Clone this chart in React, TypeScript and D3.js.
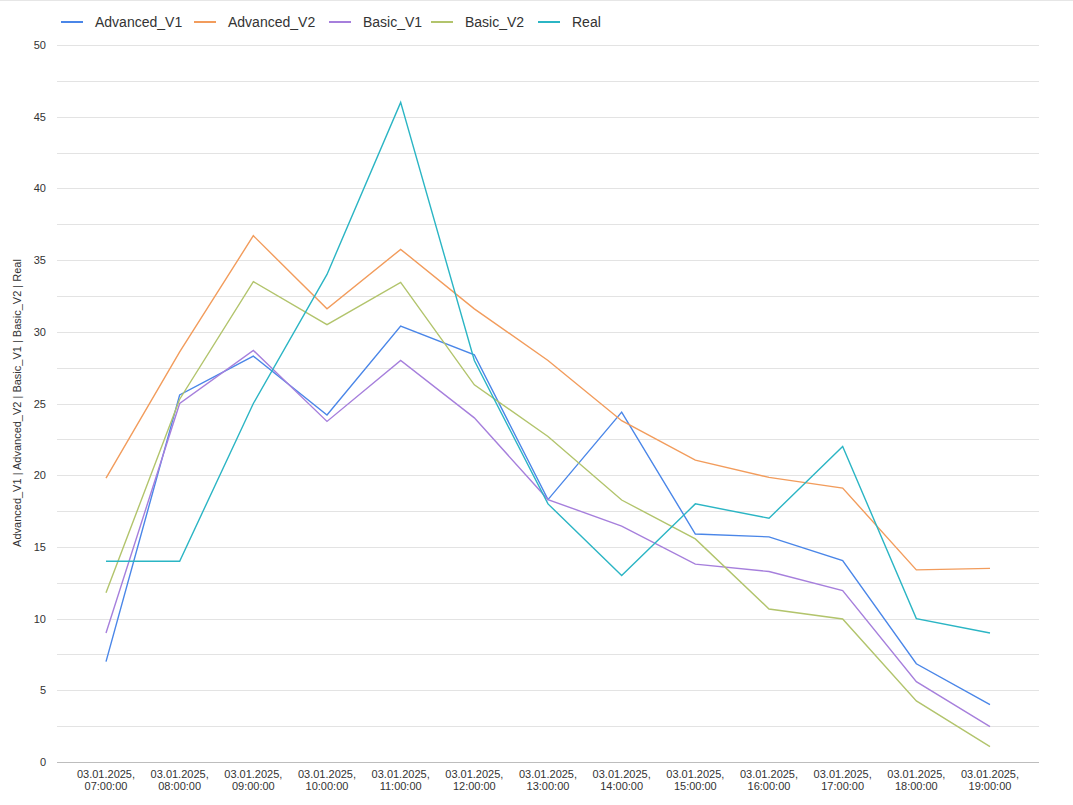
import React from "react";
import * as d3 from "d3";

const categories = [
  "03.01.2025, 07:00:00", "03.01.2025, 08:00:00", "03.01.2025, 09:00:00",
  "03.01.2025, 10:00:00", "03.01.2025, 11:00:00", "03.01.2025, 12:00:00",
  "03.01.2025, 13:00:00", "03.01.2025, 14:00:00", "03.01.2025, 15:00:00",
  "03.01.2025, 16:00:00", "03.01.2025, 17:00:00", "03.01.2025, 18:00:00",
  "03.01.2025, 19:00:00",
];
const advancedV1 = [7.0, 25.6, 28.3, 24.2, 30.4, 28.4, 18.3, 24.4, 15.9, 15.7, 14.05, 6.85, 4.0];
const advancedV2 = [19.8, 28.6, 36.7, 31.6, 35.75, 31.6, 28.0, 23.8, 21.05, 19.85, 19.1, 13.4, 13.5];
const basicV1 = [9.0, 25.0, 28.7, 23.75, 28.0, 24.0, 18.3, 16.45, 13.8, 13.28, 11.95, 5.6, 2.47];
const basicV2 = [11.8, 25.3, 33.5, 30.5, 33.45, 26.3, 22.7, 18.27, 15.56, 10.67, 9.97, 4.26, 1.07];
const real = [14, 14, 25, 34, 46, 28, 18, 13, 18, 17, 22, 10, 9];
const yTicks = [0, 5, 10, 15, 20, 25, 30, 35, 40, 45, 50];
const seriesNames = ["Advanced_V1", "Advanced_V2", "Basic_V1", "Basic_V2", "Real"];
const seriesValues = [advancedV1, advancedV2, basicV1, basicV2, real];
const colors = ["#4a86e8", "#f29c5c", "#a67fdc", "#b2c46c", "#2bb5c4"];
const legendX = [61, 194, 329, 431, 538];

export default function App() {
  const W = 1073, H = 805;
  const x = d3.scalePoint<string>().domain(categories).range([106, 990]);
  const y = d3.scaleLinear().domain([0, 50]).range([762, 45]);
  const gridVals = d3.range(0, 50.01, 2.5);
  const line = d3.line<number>().x((_, i) => x(categories[i])!).y((d) => y(d));
  const font = "'Liberation Sans', Arial, sans-serif";
  return (
    <svg width={W} height={H} style={{ position: "absolute", left: 0, top: 0, background: "#fff" }} fontFamily={font}>
      <line x1={0} x2={W} y1={0.5} y2={0.5} stroke="#e6e6e6" />
      {gridVals.map((v) => (
        <line key={v} x1={57} x2={1039} y1={Math.round(y(v)) + 0.5} y2={Math.round(y(v)) + 0.5}
          stroke={v === 0 ? "#bdbdbd" : "#e3e3e3"} strokeWidth={1} />
      ))}
      {yTicks.map((v) => (
        <text key={v} x={46} y={y(v) + 4} textAnchor="end" fontSize={11} fill="#333">{v}</text>
      ))}
      {categories.map((c) => {
        const [a, b] = c.split(", ");
        return (
          <text key={c} x={x(c)} y={778} textAnchor="middle" fontSize={11} fill="#333">
            <tspan x={x(c)} dy={0}>{a},</tspan>
            <tspan x={x(c)} dy={12}>{b}</tspan>
          </text>
        );
      })}
      <text transform={`translate(21,${403}) rotate(-90)`} textAnchor="middle" fontSize={11} fill="#333">
        Advanced_V1 | Advanced_V2 | Basic_V1 | Basic_V2 | Real
      </text>
      {seriesValues.map((vals, i) => (
        <path key={i} d={line(vals)!} fill="none" stroke={colors[i]} strokeWidth={1.4} />
      ))}
      {seriesNames.map((n, i) => (
        <g key={n}>
          <line x1={legendX[i]} x2={legendX[i] + 22} y1={22} y2={22} stroke={colors[i]} strokeWidth={2} />
          <text x={legendX[i] + 34} y={27} fontSize={14} fill="#333">{n}</text>
        </g>
      ))}
    </svg>
  );
}
